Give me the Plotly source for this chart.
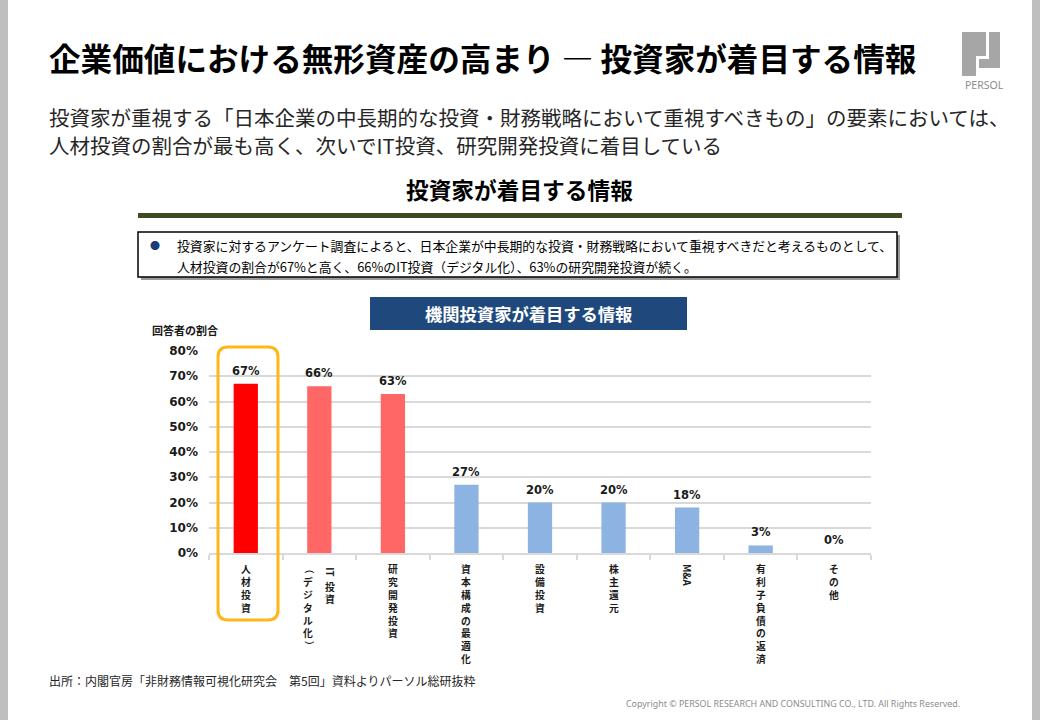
import plotly.graph_objects as go

# ---------------- data ----------------
categories = ["人材投資", "IT投資（デジタル化）", "研究開発投資", "資本構成の最適化",
              "設備投資", "株主還元", "M&A", "有利子負債の返済", "その他"]
# vertical label columns (right-to-left, as in Japanese vertical writing)
label_columns = [["人材投資"], ["IT投資", "（デジタル化）"], ["研究開発投資"], ["資本構成の最適化"],
                 ["設備投資"], ["株主還元"], ["M&A"], ["有利子負債の返済"], ["その他"]]
values = [0.67, 0.66, 0.63, 0.27, 0.20, 0.20, 0.18, 0.03, 0.00]
bar_colors = ["#ff0000", "#ff6666", "#ff6666", "#8db3e2", "#8db3e2",
              "#8db3e2", "#8db3e2", "#8db3e2", "#8db3e2"]
y_tick_values = [0, 0.1, 0.2, 0.3, 0.4, 0.5, 0.6, 0.7, 0.8]

slide_title = "企業価値における無形資産の高まり ― 投資家が着目する情報"
subtitle_lines = ["投資家が重視する「日本企業の中長期的な投資・財務戦略において重視すべきもの」の要素においては、",
                  "人材投資の割合が最も高く、次いでIT投資、研究開発投資に着目している"]
section_title = "投資家が着目する情報"
box_lines = ["投資家に対するアンケート調査によると、日本企業が中長期的な投資・財務戦略において重視すべきだと考えるものとして、",
             "人材投資の割合が67%と高く、66%のIT投資（デジタル化）、63%の研究開発投資が続く。"]
chart_title = "機関投資家が着目する情報"
y_axis_title = "回答者の割合"
source_text = "出所：内閣官房「非財務情報可視化研究会　第5回」資料よりパーソル総研抜粋"
copyright_text = "Copyright © PERSOL RESEARCH AND CONSULTING CO., LTD. All Rights Reserved."
logo_text = "PERSOL"

# ---------------- helpers ----------------
W, H = 1040, 720
FONT = "Noto Sans CJK JP"
NUMFONT = "DejaVu Sans"


def X(p):
    return p / W


def Y(p):
    return 1 - p / H


def path_from(points, close=True):
    s = "M " + " L ".join(f"{X(x):.5f},{Y(y):.5f}" for x, y in points)
    return s + (" Z" if close else "")


fig = go.Figure()

fig.add_trace(go.Bar(
    x=categories, y=values,
    marker=dict(color=bar_colors, line=dict(width=0)),
    width=0.33,
    hoverinfo="skip",
))

annotations = []
shapes = []

# data labels above bars
for cat, v in zip(categories, values):
    annotations.append(dict(xref="x", yref="y", x=cat, y=v, xanchor="center", yanchor="bottom",
                            yshift=4, text=f"<b>{round(v * 100)}%</b>", showarrow=False,
                            font=dict(family=NUMFONT, size=11.5, color="#1a1a1a")))

# gray slide borders
shapes.append(dict(type="rect", xref="paper", yref="paper", x0=0, x1=X(8), y0=0, y1=1,
                   fillcolor="#bfbfbf", line=dict(width=0), layer="below"))
shapes.append(dict(type="rect", xref="paper", yref="paper", x0=X(1032), x1=1, y0=0, y1=1,
                   fillcolor="#bfbfbf", line=dict(width=0), layer="below"))

# slide title & subtitle
annotations.append(dict(xref="paper", yref="paper", x=X(47), y=Y(57), xanchor="left", yanchor="middle",
                        text=f"<b>{slide_title}</b>", showarrow=False,
                        font=dict(family=FONT, size=31.6, color="#000000")))
for i, line in enumerate(subtitle_lines):
    annotations.append(dict(xref="paper", yref="paper", x=X(47), y=Y(117.5 + i * 27), xanchor="left",
                            yanchor="middle", text=line, showarrow=False, align="left",
                            font=dict(family=FONT, size=20.5, color="#262626")))

# logo
logo_col = "#a6a6a6"
shapes.append(dict(type="path", xref="paper", yref="paper", fillcolor=logo_col, line=dict(width=0),
                   path=path_from([(962, 32), (986, 32), (986, 56), (976, 56), (976, 76), (962, 76)])))
shapes.append(dict(type="path", xref="paper", yref="paper", fillcolor=logo_col, line=dict(width=0),
                   path=path_from([(989, 32), (1000, 32), (1000, 68), (979, 68), (979, 59), (989, 59)])))
annotations.append(dict(xref="paper", yref="paper", x=X(984), y=Y(85), xanchor="center", yanchor="middle",
                        text=logo_text, showarrow=False,
                        font=dict(family="Noto Sans", size=10.5, color="#8c8c8c")))

# section title and olive rule
annotations.append(dict(xref="paper", yref="paper", x=X(519), y=Y(190), xanchor="center", yanchor="middle",
                        text=f"<b>{section_title}</b>", showarrow=False,
                        font=dict(family=FONT, size=22.7, color="#000000")))
shapes.append(dict(type="rect", xref="paper", yref="paper", x0=X(138), x1=X(902), y0=Y(218), y1=Y(213),
                   fillcolor="#3e4a22", line=dict(width=0)))

# summary box with shadow
shapes.append(dict(type="rect", xref="paper", yref="paper", x0=X(141), x1=X(900), y0=Y(280), y1=Y(235),
                   fillcolor="#9a9a9a", line=dict(width=0)))
shapes.append(dict(type="rect", xref="paper", yref="paper", x0=X(138), x1=X(897), y0=Y(277), y1=Y(232),
                   fillcolor="#ffffff", line=dict(color="#000000", width=1.5)))
annotations.append(dict(xref="paper", yref="paper", x=X(155), y=Y(245), xanchor="center", yanchor="middle",
                        text="●", showarrow=False, font=dict(family=FONT, size=10, color="#1f3a78")))
for i, line in enumerate(box_lines):
    annotations.append(dict(xref="paper", yref="paper", x=X(175), y=Y(245 + i * 21), xanchor="left",
                            yanchor="middle", text=line, showarrow=False,
                            font=dict(family=FONT, size=12.85, color="#000000")))

# navy chart title box
shapes.append(dict(type="rect", xref="paper", yref="paper", x0=X(370), x1=X(687), y0=Y(330), y1=Y(297),
                   fillcolor="#1f497d", line=dict(width=0)))
annotations.append(dict(xref="paper", yref="paper", x=X(528.5), y=Y(313.5), xanchor="center", yanchor="middle",
                        text=f"<b>{chart_title}</b>", showarrow=False,
                        font=dict(family=FONT, size=17.3, color="#ffffff")))

# y axis title
annotations.append(dict(xref="paper", yref="paper", x=X(150), y=Y(330), xanchor="left", yanchor="middle",
                        text=f"<b>{y_axis_title}</b>", showarrow=False,
                        font=dict(family=FONT, size=11, color="#1a1a1a")))

# vertical category labels (one glyph per annotation, stacked top-to-bottom)
LBL_SIZE = 9.8
PITCH = 12.8
for cat, cols in zip(categories, label_columns):
    n = len(cols)
    for j, col in enumerate(cols):
        xshift = ((n - 1) / 2 - j) * 22
        toks = []
        buf = ""
        for ch in col:
            if ord(ch) < 128:
                buf += ch
            else:
                if buf:
                    toks.append(("rot", buf))
                    buf = ""
                toks.append(("rot", ch) if ch in "（）" else ("up", ch))
        if buf:
            toks.append(("rot", buf))
        cursor = 563
        for kind, t in toks:
            if kind == "up":
                length = PITCH
                angle = 0
            else:
                length = PITCH if ord(t[0]) >= 128 else max(10, 0.72 * LBL_SIZE * len(t)) + 3
                angle = 90
            annotations.append(dict(xref="x", yref="paper", x=cat, y=Y(cursor + length / 2),
                                    xshift=xshift, xanchor="center", yanchor="middle", borderpad=0,
                                    text=f"<b>{t}</b>", textangle=angle, showarrow=False,
                                    font=dict(family=FONT, size=LBL_SIZE, color="#1a1a1a")))
            cursor += length

# orange highlight rounded rectangle
x0, x1, y0, y1, r = 218, 278, 347, 620, 10
pts = (f"M {X(x0 + r):.5f},{Y(y0):.5f} L {X(x1 - r):.5f},{Y(y0):.5f} "
       f"Q {X(x1):.5f},{Y(y0):.5f} {X(x1):.5f},{Y(y0 + r):.5f} "
       f"L {X(x1):.5f},{Y(y1 - r):.5f} Q {X(x1):.5f},{Y(y1):.5f} {X(x1 - r):.5f},{Y(y1):.5f} "
       f"L {X(x0 + r):.5f},{Y(y1):.5f} Q {X(x0):.5f},{Y(y1):.5f} {X(x0):.5f},{Y(y1 - r):.5f} "
       f"L {X(x0):.5f},{Y(y0 + r):.5f} Q {X(x0):.5f},{Y(y0):.5f} {X(x0 + r):.5f},{Y(y0):.5f} Z")
shapes.append(dict(type="path", xref="paper", yref="paper", path=pts,
                   line=dict(color="#ffb619", width=3), fillcolor="rgba(0,0,0,0)"))

# source and copyright
annotations.append(dict(xref="paper", yref="paper", x=X(47), y=Y(680), xanchor="left", yanchor="middle",
                        text=source_text, showarrow=False,
                        font=dict(family=FONT, size=12.0, color="#262626")))
annotations.append(dict(xref="paper", yref="paper", x=X(962), y=Y(703), xanchor="right", yanchor="middle",
                        text=copyright_text, showarrow=False,
                        font=dict(family="Noto Sans", size=8.9, color="#8c8c8c")))

fig.update_layout(
    width=W, height=H,
    margin=dict(l=0, r=0, t=0, b=0, autoexpand=False),
    paper_bgcolor="#ffffff", plot_bgcolor="#ffffff",
    showlegend=False,
    bargap=0.67,
    xaxis=dict(domain=[X(209), X(871)], type="category", range=[-0.5, 8.5], automargin=False,
               showticklabels=False, showgrid=False, zeroline=False,
               showline=True, linecolor="#d9d9d9", linewidth=2,
               ticks="outside", tickson="boundaries", ticklen=5, tickcolor="#d9d9d9", tickwidth=1.5,
               fixedrange=True),
    yaxis=dict(domain=[Y(553), Y(351)], range=[0, 0.8], tickvals=y_tick_values, tickformat=".0%",
               automargin=False,
               showgrid=True, gridcolor="#d9d9d9", gridwidth=1.5, zeroline=False, showline=False,
               ticks="", ticklabelstandoff=10,
               tickfont=dict(family=NUMFONT, size=12, color="#1a1a1a", weight="bold"),
               fixedrange=True),
    annotations=annotations,
    shapes=shapes,
)

fig.write_html("out.html", config={"displayModeBar": False},
               post_script="document.body.style.margin='0';document.body.style.overflow='hidden';")
